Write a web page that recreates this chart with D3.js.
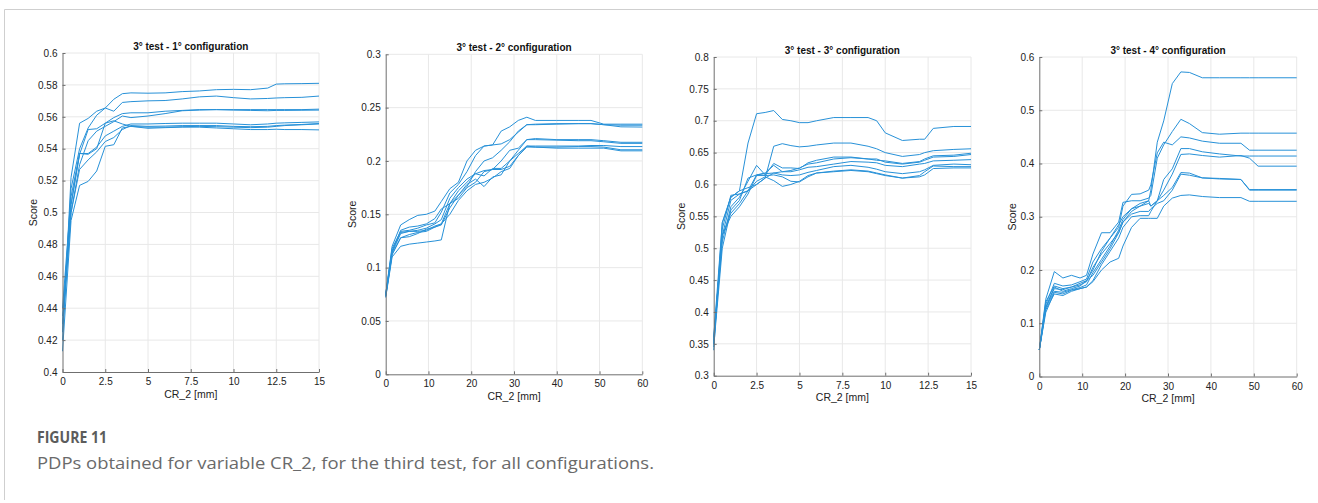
<!DOCTYPE html>
<html>
<head>
<meta charset="utf-8">
<script src="https://cdn.jsdelivr.net/npm/d3@7"></script>
<style>
  html, body { margin: 0; padding: 0; background: #fff; }
  svg { display: block; }
</style>
</head>
<body>
<svg id="fig" width="1318" height="503"></svg>
<script>
// ---- Partial dependence of Score on CR_2, third test, four configurations ----

const panelTitles = [
  "3° test - 1° configuration",
  "3° test - 2° configuration",
  "3° test - 3° configuration",
  "3° test - 4° configuration"
];
const xAxisLabel = "CR_2 [mm]";
const yAxisLabel = "Score";

// Configuration 1 (CR_2 0–15 mm)
const cfg1X = [0, 0.5, 1, 1.5, 2, 2.5, 3, 3.5, 4, 5, 6, 7, 8, 9, 10, 11, 12, 12.5, 13, 14, 15];
const cfg1Lines = [
  [0.425, 0.515, 0.540, 0.553, 0.561, 0.5655, 0.571, 0.5745, 0.575, 0.5748, 0.575, 0.5758, 0.5762, 0.577, 0.5772, 0.577, 0.578, 0.5805, 0.5807, 0.5808, 0.581],
  [0.420, 0.522, 0.556, 0.559, 0.5635, 0.5655, 0.5635, 0.569, 0.5695, 0.570, 0.5702, 0.5712, 0.5725, 0.573, 0.572, 0.5712, 0.5715, 0.5718, 0.572, 0.5722, 0.573],
  [0.430, 0.505, 0.537, 0.5365, 0.540, 0.556, 0.5595, 0.562, 0.5625, 0.5625, 0.5635, 0.564, 0.5645, 0.5645, 0.5645, 0.5645, 0.5645, 0.5645, 0.5645, 0.5645, 0.5648],
  [0.425, 0.500, 0.530, 0.545, 0.551, 0.554, 0.557, 0.5605, 0.5595, 0.5605, 0.562, 0.5638, 0.5642, 0.5645, 0.5642, 0.564, 0.5638, 0.564, 0.564, 0.5641, 0.5642],
  [0.440, 0.510, 0.537, 0.537, 0.541, 0.548, 0.551, 0.554, 0.5555, 0.5555, 0.5558, 0.556, 0.556, 0.556, 0.5555, 0.555, 0.5555, 0.556, 0.5562, 0.5565, 0.5568],
  [0.430, 0.500, 0.527, 0.533, 0.538, 0.5445, 0.547, 0.552, 0.5545, 0.554, 0.5542, 0.5545, 0.5545, 0.5545, 0.554, 0.5538, 0.554, 0.5545, 0.5548, 0.5552, 0.5558],
  [0.413, 0.495, 0.517, 0.5195, 0.526, 0.5415, 0.5425, 0.553, 0.554, 0.5528, 0.5532, 0.5535, 0.5535, 0.553, 0.5525, 0.552, 0.552, 0.5522, 0.552, 0.552, 0.5518],
  [0.435, 0.505, 0.5365, 0.552, 0.5525, 0.556, 0.5575, 0.5555, 0.554, 0.5535, 0.5535, 0.5538, 0.554, 0.5538, 0.5535, 0.5532, 0.5535, 0.554, 0.5545, 0.555, 0.5555]
];

// Configuration 2 (CR_2 0–60 mm)
const cfg2X = [0, 1.5, 3.5, 5.5, 7.5, 9.5, 11.5, 13, 15, 17, 19, 21, 23, 25, 27, 29, 31, 33, 35, 40, 45, 48, 51, 55, 60];
const cfg2Lines = [
  [0.075, 0.118, 0.134, 0.135, 0.137, 0.140, 0.142, 0.152, 0.170, 0.178, 0.190, 0.205, 0.214, 0.215, 0.228, 0.232, 0.238, 0.241, 0.238, 0.238, 0.238, 0.238, 0.2345, 0.2345, 0.2345],
  [0.075, 0.120, 0.140, 0.145, 0.149, 0.150, 0.153, 0.162, 0.174, 0.180, 0.200, 0.210, 0.214, 0.215, 0.216, 0.220, 0.227, 0.234, 0.234, 0.2345, 0.235, 0.235, 0.234, 0.2335, 0.2335],
  [0.073, 0.112, 0.128, 0.131, 0.133, 0.134, 0.138, 0.140, 0.156, 0.168, 0.176, 0.190, 0.200, 0.203, 0.210, 0.218, 0.228, 0.234, 0.2345, 0.235, 0.235, 0.235, 0.234, 0.232, 0.2318],
  [0.075, 0.115, 0.135, 0.138, 0.139, 0.141, 0.146, 0.155, 0.160, 0.172, 0.180, 0.188, 0.191, 0.192, 0.200, 0.210, 0.212, 0.220, 0.221, 0.220, 0.220, 0.220, 0.219, 0.2175, 0.2175],
  [0.074, 0.114, 0.132, 0.134, 0.135, 0.137, 0.141, 0.145, 0.165, 0.175, 0.183, 0.188, 0.186, 0.193, 0.193, 0.200, 0.210, 0.220, 0.220, 0.2195, 0.219, 0.219, 0.218, 0.2165, 0.2165],
  [0.073, 0.113, 0.128, 0.129, 0.132, 0.136, 0.138, 0.141, 0.160, 0.168, 0.178, 0.183, 0.176, 0.185, 0.187, 0.200, 0.207, 0.214, 0.214, 0.214, 0.214, 0.2145, 0.2145, 0.2135, 0.2135],
  [0.072, 0.110, 0.120, 0.122, 0.123, 0.124, 0.125, 0.126, 0.160, 0.165, 0.175, 0.180, 0.190, 0.192, 0.192, 0.195, 0.205, 0.213, 0.213, 0.213, 0.2135, 0.2135, 0.213, 0.2105, 0.2105],
  [0.074, 0.116, 0.133, 0.134, 0.134, 0.135, 0.139, 0.141, 0.150, 0.163, 0.172, 0.178, 0.180, 0.184, 0.190, 0.193, 0.205, 0.214, 0.213, 0.212, 0.212, 0.212, 0.212, 0.2095, 0.2095]
];

// Configuration 3 (CR_2 0–15 mm)
const cfg3X = [0, 0.5, 1, 1.5, 2, 2.5, 3, 3.5, 4, 4.5, 5, 5.5, 6, 7, 8, 9, 9.5, 10, 11, 12, 12.3, 12.8, 14, 15];
const cfg3Lines = [
  [0.360, 0.540, 0.580, 0.590, 0.665, 0.711, 0.713, 0.716, 0.702, 0.700, 0.697, 0.697, 0.700, 0.705, 0.705, 0.705, 0.700, 0.681, 0.669, 0.671, 0.671, 0.688, 0.691, 0.691],
  [0.350, 0.520, 0.575, 0.585, 0.590, 0.600, 0.610, 0.660, 0.664, 0.661, 0.659, 0.660, 0.662, 0.665, 0.665, 0.660, 0.656, 0.650, 0.644, 0.647, 0.650, 0.653, 0.655, 0.656],
  [0.355, 0.510, 0.565, 0.580, 0.605, 0.630, 0.615, 0.633, 0.626, 0.626, 0.625, 0.634, 0.638, 0.643, 0.643, 0.640, 0.638, 0.637, 0.633, 0.636, 0.640, 0.645, 0.646, 0.649],
  [0.350, 0.530, 0.583, 0.585, 0.590, 0.615, 0.618, 0.630, 0.620, 0.622, 0.626, 0.632, 0.634, 0.640, 0.642, 0.640, 0.640, 0.635, 0.632, 0.635, 0.638, 0.643, 0.644, 0.647],
  [0.345, 0.500, 0.560, 0.575, 0.610, 0.615, 0.617, 0.618, 0.620, 0.620, 0.623, 0.627, 0.628, 0.632, 0.636, 0.635, 0.634, 0.630, 0.628, 0.632, 0.633, 0.637, 0.638, 0.639],
  [0.340, 0.540, 0.580, 0.590, 0.595, 0.600, 0.610, 0.618, 0.615, 0.614, 0.615, 0.619, 0.622, 0.628, 0.630, 0.627, 0.624, 0.620, 0.617, 0.620, 0.623, 0.630, 0.632, 0.631],
  [0.355, 0.520, 0.550, 0.565, 0.585, 0.614, 0.614, 0.615, 0.612, 0.605, 0.604, 0.612, 0.618, 0.621, 0.623, 0.621, 0.618, 0.615, 0.610, 0.614, 0.620, 0.629, 0.628, 0.628],
  [0.360, 0.520, 0.555, 0.570, 0.590, 0.605, 0.612, 0.606, 0.597, 0.600, 0.605, 0.614, 0.618, 0.620, 0.622, 0.620, 0.617, 0.614, 0.610, 0.612, 0.615, 0.625, 0.626, 0.626]
];

// Configuration 4 (CR_2 0–60 mm)
const cfg4X = [0, 1.5, 3.5, 5.5, 7.5, 9.5, 11, 12.5, 14.5, 16.5, 18.5, 19.5, 21.5, 23.5, 25.5, 26, 27.5, 29, 31, 33, 35, 38, 42, 47, 49, 51, 60];
const cfg4Lines = [
  [0.05, 0.140, 0.170, 0.165, 0.168, 0.175, 0.180, 0.200, 0.235, 0.260, 0.285, 0.300, 0.315, 0.320, 0.330, 0.350, 0.440, 0.480, 0.550, 0.572, 0.571, 0.561, 0.561, 0.561, 0.561, 0.561, 0.561],
  [0.05, 0.145, 0.197, 0.185, 0.190, 0.185, 0.190, 0.230, 0.270, 0.270, 0.290, 0.327, 0.330, 0.330, 0.335, 0.340, 0.410, 0.435, 0.460, 0.483, 0.475, 0.458, 0.455, 0.457, 0.457, 0.457, 0.457],
  [0.05, 0.135, 0.175, 0.170, 0.172, 0.178, 0.183, 0.215, 0.240, 0.260, 0.280, 0.320, 0.342, 0.343, 0.350, 0.360, 0.420, 0.440, 0.435, 0.450, 0.448, 0.442, 0.438, 0.438, 0.425, 0.425, 0.425],
  [0.05, 0.130, 0.168, 0.160, 0.165, 0.170, 0.180, 0.190, 0.215, 0.240, 0.270, 0.290, 0.310, 0.320, 0.325, 0.320, 0.330, 0.370, 0.390, 0.428, 0.428, 0.422, 0.418, 0.414, 0.414, 0.414, 0.414],
  [0.05, 0.128, 0.160, 0.158, 0.163, 0.167, 0.172, 0.195, 0.220, 0.245, 0.275, 0.295, 0.315, 0.325, 0.330, 0.320, 0.330, 0.350, 0.380, 0.417, 0.418, 0.415, 0.412, 0.415, 0.410, 0.395, 0.395],
  [0.05, 0.125, 0.155, 0.152, 0.160, 0.165, 0.168, 0.180, 0.210, 0.235, 0.260, 0.280, 0.300, 0.302, 0.302, 0.310, 0.330, 0.340, 0.355, 0.383, 0.382, 0.373, 0.372, 0.370, 0.351, 0.351, 0.351],
  [0.05, 0.120, 0.158, 0.155, 0.162, 0.165, 0.168, 0.178, 0.200, 0.215, 0.222, 0.245, 0.280, 0.297, 0.297, 0.297, 0.297, 0.320, 0.335, 0.340, 0.341, 0.338, 0.336, 0.336, 0.329, 0.329, 0.329],
  [0.05, 0.130, 0.165, 0.163, 0.168, 0.172, 0.178, 0.205, 0.230, 0.250, 0.270, 0.290, 0.305, 0.310, 0.310, 0.315, 0.325, 0.330, 0.350, 0.380, 0.378, 0.373, 0.371, 0.370, 0.350, 0.350, 0.350]
];

// Axis ticks
const xTicksShort = [0, 2.5, 5, 7.5, 10, 12.5, 15];
const xTicksLong = [0, 10, 20, 30, 40, 50, 60];
const yTicks1 = [0.4, 0.42, 0.44, 0.46, 0.48, 0.5, 0.52, 0.54, 0.56, 0.58, 0.6];
const yTicks2 = [0, 0.05, 0.1, 0.15, 0.2, 0.25, 0.3];
const yTicks3 = [0.3, 0.35, 0.4, 0.45, 0.5, 0.55, 0.6, 0.65, 0.7, 0.75, 0.8];
const yTicks4 = [0, 0.1, 0.2, 0.3, 0.4, 0.5, 0.6];

const captionHead = "FIGURE 11";
const captionText = "PDPs obtained for variable CR_2, for the third test, for all configurations.";

// ---- layout ----
const panels = [
  { title: panelTitles[0], x: cfg1X, lines: cfg1Lines, xTicks: xTicksShort, yTicks: yTicks1,
    box: { l: 62.5, r: 319, t: 53, b: 372 }, ylabX: 33 },
  { title: panelTitles[1], x: cfg2X, lines: cfg2Lines, xTicks: xTicksLong, yTicks: yTicks2,
    box: { l: 385.7, r: 642.3, t: 54.3, b: 374.3 }, ylabX: 352 },
  { title: panelTitles[2], x: cfg3X, lines: cfg3Lines, xTicks: xTicksShort, yTicks: yTicks3,
    box: { l: 713.7, r: 971, t: 57, b: 375.7 }, ylabX: 681 },
  { title: panelTitles[3], x: cfg4X, lines: cfg4Lines, xTicks: xTicksLong, yTicks: yTicks4,
    box: { l: 1039.3, r: 1296.7, t: 57, b: 376.5 }, ylabX: 1012 }
];

const svg = d3.select("#fig");
svg.append("rect").attr("width", 1318).attr("height", 503).attr("fill", "#fff");

// page frame
svg.append("line").attr("x1", 4.5).attr("x2", 1318).attr("y1", 9.5).attr("y2", 9.5)
  .attr("stroke", "#cfcfcf").attr("stroke-width", 1);
svg.append("line").attr("x1", 4.5).attr("x2", 4.5).attr("y1", 9.5).attr("y2", 500)
  .attr("stroke", "#cfcfcf").attr("stroke-width", 1);

const fmt = v => String(+v.toFixed(3));
const FONT = "'Liberation Sans', Arial, Helvetica, sans-serif";
const LINE_COLOR = "#2791d8";
const AXIS_COLOR = "#6f6f6f";
const GRID_COLOR = "#e8e8e8";

panels.forEach(p => {
  const { l, r, t, b } = p.box;
  const xs = d3.scaleLinear().domain(d3.extent(p.xTicks)).range([l, r]);
  const ys = d3.scaleLinear().domain(d3.extent(p.yTicks)).range([b, t]);
  const g = svg.append("g");

  // grid
  g.append("g").selectAll("line").data(p.xTicks.slice(1)).join("line")
    .attr("x1", d => xs(d)).attr("x2", d => xs(d)).attr("y1", t).attr("y2", b)
    .attr("stroke", GRID_COLOR).attr("stroke-width", 1);
  g.append("g").selectAll("line").data(p.yTicks.slice(1)).join("line")
    .attr("x1", l).attr("x2", r).attr("y1", d => ys(d)).attr("y2", d => ys(d))
    .attr("stroke", GRID_COLOR).attr("stroke-width", 1);

  // curves
  const line = d3.line().x((d, i) => xs(p.x[i])).y(d => ys(d));
  g.append("g").attr("fill", "none").attr("stroke", LINE_COLOR)
    .attr("stroke-width", 1).attr("stroke-linejoin", "round")
    .selectAll("path").data(p.lines).join("path").attr("d", line);

  // axes (inward ticks)
  const xAxis = d3.axisBottom(xs).tickValues(p.xTicks).tickFormat(fmt).tickSizeInner(-3).tickSizeOuter(0).tickPadding(6);
  const yAxis = d3.axisLeft(ys).tickValues(p.yTicks).tickFormat(fmt).tickSizeInner(-3).tickSizeOuter(0).tickPadding(5);
  const gx = g.append("g").attr("transform", `translate(0,${b})`).call(xAxis);
  const gy = g.append("g").attr("transform", `translate(${l},0)`).call(yAxis);
  [gx, gy].forEach(a => {
    a.select(".domain").attr("stroke", AXIS_COLOR);
    a.selectAll(".tick line").attr("stroke", AXIS_COLOR);
    a.selectAll(".tick text").attr("fill", "#222").attr("font-size", 10).attr("font-family", FONT);
  });

  // title and axis labels
  g.append("text").attr("x", (l + r) / 2).attr("y", t - 3.5)
    .attr("text-anchor", "middle").attr("font-family", FONT).attr("font-weight", "bold")
    .attr("font-size", 10).attr("fill", "#111").text(p.title);
  g.append("text").attr("x", (l + r) / 2).attr("y", b + 25.5)
    .attr("text-anchor", "middle").attr("font-family", FONT)
    .attr("font-size", 10.5).attr("fill", "#222").text(xAxisLabel);
  g.append("text").attr("transform", `translate(${p.ylabX + 3.5},${(t + b) / 2}) rotate(-90)`)
    .attr("text-anchor", "middle").attr("font-family", FONT)
    .attr("font-size", 10.5).attr("fill", "#222").text(yAxisLabel);
});

// caption
svg.append("text").attr("x", 37).attr("y", 443)
  .attr("font-family", "'Open Sans', 'Noto Sans', sans-serif").attr("font-weight", "bold")
  .attr("font-size", 16).attr("fill", "#5c5c5c")
  .attr("textLength", 70).attr("lengthAdjust", "spacingAndGlyphs").text(captionHead);
svg.append("text").attr("x", 37).attr("y", 468.5)
  .attr("font-family", "'Open Sans', 'Noto Sans', sans-serif")
  .attr("font-size", 17).attr("fill", "#6a6a6a")
  .attr("textLength", 617).attr("lengthAdjust", "spacingAndGlyphs").text(captionText);
</script>
</body>
</html>
